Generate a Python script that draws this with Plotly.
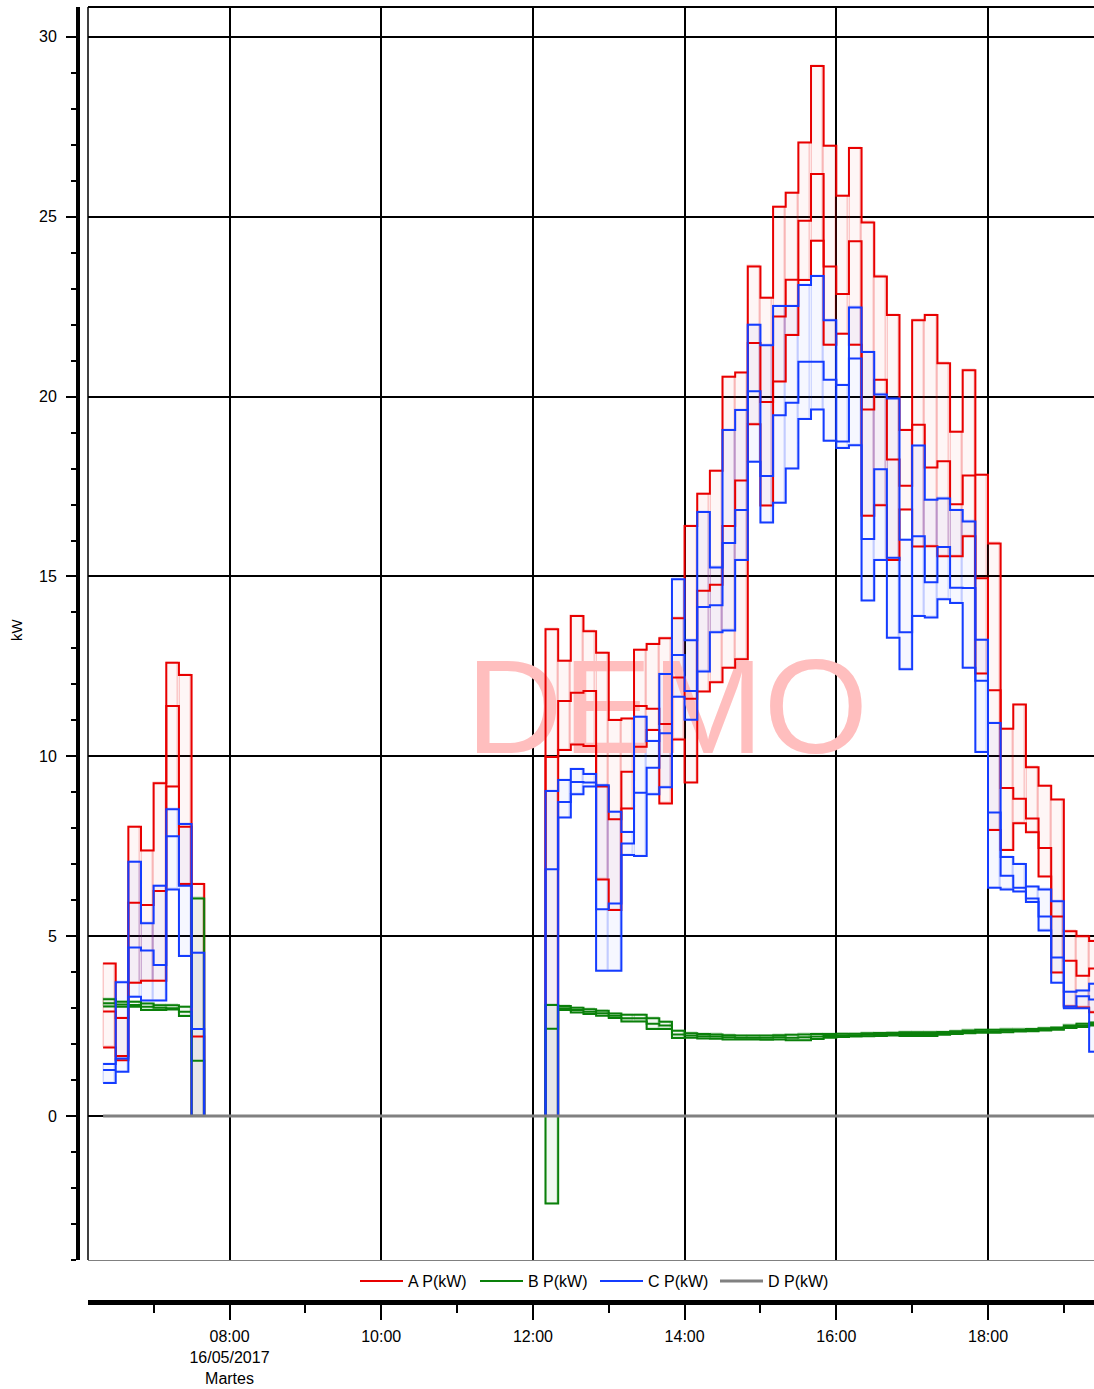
import pandas as pd
import plotly.graph_objects as go

DAY = "2017-05-16"
MORNING_START = "06:20"
AFTERNOON_START = "12:10"
GAP_LEVEL = 0.0      # every series sits at 0 kW between the two blocks
D_LEVEL = 0.0        # D P(kW) is 0 all day

# ---- morning block, 10-minute intervals 06:20 ... 07:30 ----
a_max_m = [4.24, 2.73, 8.04, 7.38, 9.25, 12.60, 12.26, 6.45]
a_avg_m = [2.91, 1.67, 5.93, 5.87, 6.26, 11.40, 8.04, 2.21]
a_min_m = [1.91, 1.55, 3.71, 3.76, 3.76, 9.16, 6.45, 0.00]

b_max_m = [3.25, 3.18, 3.18, 3.13, 3.08, 3.08, 3.04, 6.05]
b_avg_m = [3.14, 3.10, 3.09, 3.04, 3.01, 3.00, 2.90, 1.54]
b_min_m = [3.05, 3.04, 3.04, 2.95, 2.95, 2.96, 2.78, 0.00]

c_max_m = [1.45, 3.72, 7.07, 5.36, 6.40, 8.53, 8.12, 4.54]
c_avg_m = [1.28, 1.60, 4.69, 4.60, 4.20, 7.78, 6.40, 2.42]
c_min_m = [0.92, 1.23, 3.32, 3.21, 3.21, 6.30, 4.45, 0.00]

# ---- afternoon block, 10-minute intervals 12:10 ... 19:20 ----
a_max_a = [13.53, 12.66, 13.90, 13.48, 12.88, 11.01, 11.05, 12.96, 13.12, 13.28, 13.84,
           16.40, 17.30, 17.94, 20.55, 20.67, 23.62, 22.75, 25.28, 25.67, 27.06, 29.19,
           26.97, 25.58, 26.91, 24.84, 23.34, 22.27, 19.07, 22.12, 22.27, 20.93, 19.02,
           20.73, 17.83, 15.92, 10.77, 11.44, 9.70, 9.18, 8.80, 5.14, 5.00, 4.87]
a_avg_a = [9.98, 11.54, 11.77, 11.82, 9.16, 8.25, 9.57, 11.40, 11.32, 10.90, 12.19,
           11.60, 14.60, 14.77, 16.40, 17.67, 21.49, 19.85, 22.23, 23.25, 24.89, 26.19,
           23.62, 22.85, 24.32, 19.64, 20.47, 18.25, 17.52, 19.22, 18.03, 18.20, 17.01,
           17.81, 14.95, 11.84, 9.12, 8.82, 8.27, 7.45, 5.55, 4.32, 3.90, 4.10]
a_min_a = [0.00, 10.18, 10.33, 10.29, 6.58, 5.73, 8.55, 10.27, 10.73, 8.69, 10.47,
           9.27, 11.80, 12.06, 12.46, 12.70, 19.23, 16.97, 20.42, 21.71, 23.24, 24.33,
           21.44, 21.75, 21.44, 16.69, 16.98, 15.46, 16.86, 15.83, 15.84, 15.56, 15.56,
           16.12, 12.30, 7.95, 7.40, 8.14, 7.89, 6.66, 3.99, 3.05, 3.02, 2.89]

b_max_a = [3.09, 3.06, 3.01, 2.97, 2.93, 2.85, 2.82, 2.82, 2.72, 2.62, 2.37,
           2.30, 2.28, 2.27, 2.25, 2.24, 2.24, 2.24, 2.25, 2.26, 2.27, 2.28,
           2.28, 2.29, 2.29, 2.30, 2.31, 2.32, 2.33, 2.33, 2.33, 2.34, 2.36,
           2.38, 2.40, 2.40, 2.41, 2.41, 2.42, 2.44, 2.46, 2.52, 2.57, 2.60]
b_avg_a = [2.43, 3.00, 2.95, 2.90, 2.86, 2.79, 2.72, 2.72, 2.57, 2.52, 2.27,
           2.24, 2.22, 2.21, 2.19, 2.18, 2.18, 2.18, 2.19, 2.18, 2.19, 2.21,
           2.23, 2.24, 2.25, 2.26, 2.27, 2.28, 2.28, 2.28, 2.28, 2.30, 2.32,
           2.34, 2.36, 2.36, 2.37, 2.38, 2.39, 2.41, 2.43, 2.48, 2.52, 2.56]
b_min_a = [-2.43, 2.95, 2.88, 2.84, 2.79, 2.73, 2.63, 2.63, 2.42, 2.42, 2.17,
           2.18, 2.16, 2.15, 2.13, 2.13, 2.13, 2.12, 2.13, 2.11, 2.11, 2.14,
           2.18, 2.20, 2.21, 2.22, 2.23, 2.24, 2.23, 2.23, 2.23, 2.26, 2.28,
           2.30, 2.32, 2.32, 2.33, 2.35, 2.36, 2.38, 2.40, 2.45, 2.48, 2.52]

c_max_a = [9.04, 9.34, 9.65, 9.51, 9.20, 8.46, 7.90, 11.10, 10.43, 12.29, 14.92,
           13.23, 16.79, 15.25, 19.07, 19.63, 22.00, 21.43, 22.52, 22.52, 23.10, 23.35,
           22.12, 20.32, 22.48, 21.24, 20.06, 19.95, 16.02, 18.64, 17.13, 17.17, 16.85,
           16.53, 13.24, 10.93, 7.20, 7.01, 6.38, 6.30, 5.97, 3.46, 3.49, 3.68]
c_avg_a = [6.86, 8.73, 9.29, 9.27, 5.75, 5.91, 7.58, 8.99, 9.68, 10.64, 12.82,
           11.82, 14.15, 14.20, 15.93, 16.85, 20.15, 17.79, 19.48, 19.83, 20.97, 20.97,
           20.47, 18.75, 21.06, 16.04, 17.98, 15.52, 13.45, 16.12, 14.84, 15.82, 14.69,
           14.68, 12.10, 8.44, 6.68, 6.35, 6.05, 5.55, 4.41, 3.05, 3.33, 3.24]
c_min_a = [0.00, 8.30, 8.95, 9.16, 4.04, 4.04, 7.26, 7.23, 8.95, 9.14, 11.66,
           11.02, 12.36, 13.45, 13.50, 15.46, 18.19, 16.50, 17.05, 18.00, 19.38, 19.64,
           18.77, 18.57, 18.65, 14.33, 15.46, 13.30, 12.42, 13.90, 13.86, 14.37, 14.26,
           12.46, 10.12, 6.35, 6.30, 6.24, 5.95, 5.16, 3.71, 3.00, 3.00, 1.79]

# ---- axis text ----
hour_ticks = ["08:00", "10:00", "12:00", "14:00", "16:00", "18:00"]
minor_hours = ["07:00", "09:00", "11:00", "13:00", "15:00", "17:00", "19:00"]
first_tick_extra = ["16/05/2017", "Martes"]
x_view = ["06:08:04", "19:23:51"]
series_names = ["A P(kW)", "B P(kW)", "C P(kW)", "D P(kW)"]

FONT = "Liberation Sans, Arial, sans-serif"
RED, GREEN, BLUE, GRAY = "rgb(232,0,0)", "rgb(10,128,10)", "rgb(20,60,255)", "rgb(128,128,128)"

step = pd.Timedelta(minutes=10)
m_starts = list(pd.date_range(f"{DAY} {MORNING_START}", periods=len(a_max_m), freq="10min"))
a_starts = list(pd.date_range(f"{DAY} {AFTERNOON_START}", periods=len(a_max_a), freq="10min"))
line_x = m_starts + [m_starts[-1] + step] + a_starts + [a_starts[-1] + step]


def line_y(morning, afternoon):
    return list(morning) + [GAP_LEVEL] + list(afternoon) + [afternoon[-1]]


fig = go.Figure()

# watermark (under the data)
fig.add_trace(go.Scatter(
    x=[pd.Timestamp(f"{DAY} 13:46:00")], y=[11.03], mode="text", text=["DEMO"],
    textfont=dict(family=FONT, size=134, color="rgb(255,190,190)"),
    showlegend=False, hoverinfo="skip"))

# min-max boxes per interval
box_w = 9 * 60 * 1000
for mx_m, mn_m, mx_a, mn_a, fill, edge in [
    (a_max_m, a_min_m, a_max_a, a_min_a, "rgba(232,0,0,0.035)", "rgba(232,0,0,0.20)"),
    (b_max_m, b_min_m, b_max_a, b_min_a, "rgba(10,128,10,0.06)", "rgba(10,128,10,0.25)"),
    (c_max_m, c_min_m, c_max_a, c_min_a, "rgba(20,60,255,0.04)", "rgba(20,60,255,0.18)"),
]:
    starts = m_starts + a_starts
    mx = list(mx_m) + list(mx_a)
    mn = list(mn_m) + list(mn_a)
    fig.add_trace(go.Bar(
        x=[s + step / 2 for s in starts], y=[h - l for h, l in zip(mx, mn)], base=mn,
        width=box_w, marker=dict(color=fill, line=dict(color=edge, width=1.5)),
        showlegend=False, hoverinfo="skip"))

# step lines: max, avg, min per series
for name, color, groups in [
    (series_names[0], RED, [(a_max_m, a_max_a), (a_avg_m, a_avg_a), (a_min_m, a_min_a)]),
    (series_names[1], GREEN, [(b_max_m, b_max_a), (b_avg_m, b_avg_a), (b_min_m, b_min_a)]),
    (series_names[2], BLUE, [(c_max_m, c_max_a), (c_avg_m, c_avg_a), (c_min_m, c_min_a)]),
]:
    for i, (mv, av) in enumerate(groups):
        fig.add_trace(go.Scatter(
            x=line_x, y=line_y(mv, av), mode="lines",
            line=dict(color=color, width=2, shape="hv"),
            name=name, legendgroup=name, showlegend=(i == 0), hoverinfo="skip"))

fig.add_trace(go.Scatter(
    x=[line_x[0], line_x[-1]], y=[D_LEVEL, D_LEVEL], mode="lines",
    line=dict(color=GRAY, width=3), name=series_names[3], hoverinfo="skip"))

# dummy trace so the lower time axis is drawn
fig.add_trace(go.Scatter(x=[f"{DAY} {x_view[0]}", f"{DAY} {x_view[1]}"], y=[None, None],
                         xaxis="x2", mode="lines", showlegend=False, hoverinfo="skip"))

x_range = [f"{DAY} {x_view[0]}", f"{DAY} {x_view[1]}"]
tick_text = ["<br>".join([hour_ticks[0]] + first_tick_extra)] + hour_ticks[1:]

W, H = 1094, 1389
ML, MR, MT, MB = 70, 0, 7, 87
pw, ph = W - ML - MR, H - MT - MB
x_dom = [(88 - ML) / pw, 1]
y_dom = [(1302 - 1260) / ph, 1]

fig.update_layout(
    width=W, height=H, margin=dict(l=ML, r=MR, t=MT, b=MB, autoexpand=False),
    paper_bgcolor="white", plot_bgcolor="white",
    barmode="overlay", bargap=0,
    font=dict(family=FONT, size=16, color="black"),
    xaxis=dict(type="date", range=x_range, domain=x_dom, anchor="y",
               showline=True, linecolor=GRAY, linewidth=1,
               ticks="", showticklabels=False, showgrid=True, gridcolor="black", gridwidth=1.5,
               tick0=f"{DAY} 08:00", dtick=2 * 3600 * 1000, zeroline=False),
    xaxis2=dict(type="date", range=x_range, domain=x_dom, overlaying="x", anchor="free", position=0,
                showline=True, linecolor="black", linewidth=5, showgrid=False,
                ticks="outside", ticklen=15, tickwidth=1.5, tickcolor="black",
                ticklabelstandoff=3,
                tickmode="array", tickvals=[f"{DAY} {h}" for h in hour_ticks], ticktext=tick_text,
                minor=dict(tickmode="array", tickvals=[f"{DAY} {h}" for h in minor_hours],
                           ticks="outside", ticklen=8, tickwidth=1.5, tickcolor="black", showgrid=False),
                tickfont=dict(family=FONT, size=16, color="black"), zeroline=False),
    yaxis=dict(range=[-4.0, 30.83], domain=y_dom, anchor="free", position=(78 - ML) / pw,
               showline=True, linecolor="black", linewidth=4,
               ticks="outside", ticklen=10, tickwidth=1.5, tickcolor="black",
               tick0=0, dtick=5, showgrid=True, gridcolor="black", gridwidth=1.5, zeroline=False,
               ticklabelstandoff=6,
               minor=dict(tick0=0, dtick=1, ticks="outside", ticklen=5, tickwidth=1.5,
                          tickcolor="black", showgrid=False),
               tickfont=dict(family=FONT, size=16, color="black")),
    legend=dict(orientation="h", x=(355 - ML) / pw, xanchor="left", y=(1302 - 1281) / ph,
                yanchor="middle", bgcolor="rgba(0,0,0,0)", font=dict(family=FONT, size=16),
                itemwidth=43, entrywidth=62, entrywidthmode="pixels", traceorder="normal"),
    shapes=[
        dict(type="line", xref="x domain", yref="y domain", x0=0, x1=1, y0=1, y1=1,
             line=dict(color="black", width=2)),
        dict(type="line", xref="x domain", yref="y domain", x0=0, x1=0, y0=0, y1=1,
             line=dict(color="black", width=1.5)),
    ],
    annotations=[dict(text="kW", xref="paper", yref="paper", x=(16 - ML) / pw, y=(1302 - 630) / ph,
                      xanchor="center", yanchor="middle",
                      showarrow=False, textangle=-90, font=dict(family=FONT, size=15, color="black"))],
)

fig.write_html("out.html", config={"displayModeBar": False},
               post_script="document.body.style.margin='0px';")
